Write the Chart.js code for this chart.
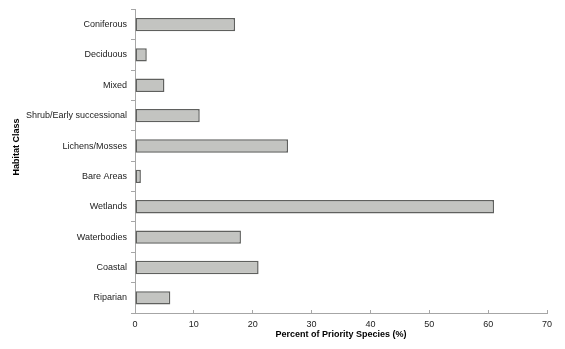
<!DOCTYPE html>
<html>
<head>
<meta charset="utf-8">
<script src="https://cdn.jsdelivr.net/npm/chart.js@4/dist/chart.umd.min.js"></script>
<style>
  html, body { margin: 0; padding: 0; background: #fff; }
  #wrap { width: 565px; height: 349px; }
</style>
</head>
<body>
<div id="wrap"><canvas id="habitatChart"></canvas></div>
<script>
const habitatClasses = ['Coniferous', 'Deciduous', 'Mixed', 'Shrub/Early successional', 'Lichens/Mosses',
  'Bare Areas', 'Wetlands', 'Waterbodies', 'Coastal', 'Riparian']
const priorityPercent = [17, 2, 5, 11, 26, 1, 61, 18, 21, 6]
const xTicks = [0, 10, 20, 30, 40, 50, 60, 70]

const axisColor = '#a6a6a6'
const font = { family: "'Liberation Sans', Arial, sans-serif", size: 9 }

// y axis title sits a little above the plot's middle, so draw it by hand
const yTitle = {
  id: 'yTitle',
  afterDraw(chart) {
    const c = chart.ctx
    c.save()
    c.translate(17, 147)
    c.rotate(-Math.PI / 2)
    c.font = `bold 9px ${font.family}`
    c.fillStyle = '#000'
    c.textAlign = 'center'
    c.textBaseline = 'middle'
    c.fillText('Habitat Class', 0, 0)
    c.restore()
  }
}

const ctx = document.getElementById('habitatChart').getContext('2d')
new Chart(ctx, {
  type: 'bar',
  data: {
    labels: habitatClasses,
    datasets: [{
      data: priorityPercent,
      backgroundColor: '#c3c4c1',
      borderColor: '#5f605e',
      borderWidth: 1.5,
      borderSkipped: false,
      barPercentage: 0.44,
      categoryPercentage: 1
    }]
  },
  options: {
    indexAxis: 'y',
    responsive: true,
    maintainAspectRatio: false,
    animation: false,
    layout: { padding: { top: 7, right: 18, left: 0, bottom: 0 } },
    plugins: { legend: { display: false }, tooltip: { enabled: false } },
    scales: {
      x: {
        min: 0,
        max: 70,
        afterBuildTicks: (scale) => { scale.ticks = xTicks.map((v) => ({ value: v })) },
        afterFit: (scale) => { scale.height = 36 },
        grid: { drawOnChartArea: false, drawTicks: true, tickLength: -3, color: axisColor },
        border: { color: axisColor, width: 1 },
        ticks: { font, color: '#222', padding: 9, maxRotation: 0 },
        title: {
          display: true,
          text: 'Percent of Priority Species (%)',
          font: { ...font, weight: 'bold' },
          color: '#000',
          padding: { top: 0, bottom: 9 }
        }
      },
      y: {
        afterFit: (scale) => { scale.width = 135 },
        offset: true,
        grid: { offset: true, drawOnChartArea: false, drawTicks: true, tickLength: 4, color: axisColor },
        border: { color: axisColor, width: 1 },
        ticks: { font, color: '#222', padding: 4, autoSkip: false }
      }
    }
  },
  plugins: [yTitle]
})
</script>
</body>
</html>
